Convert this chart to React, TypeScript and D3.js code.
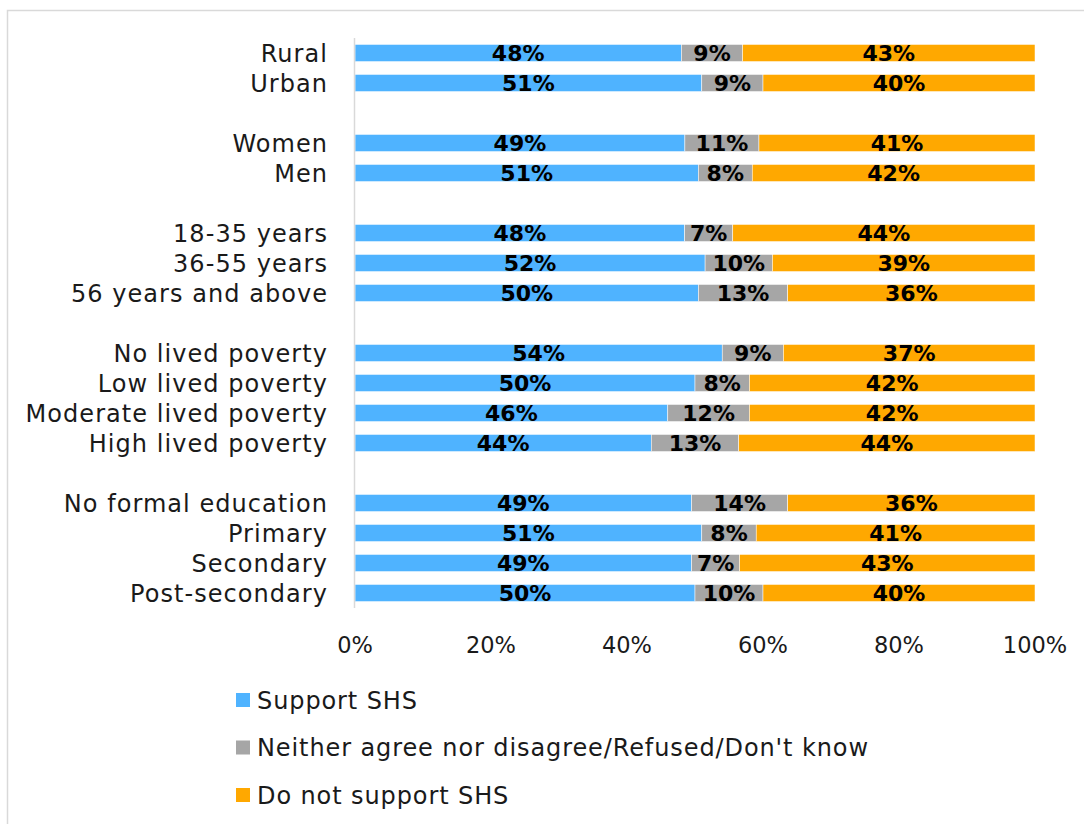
import React from "react";
import * as d3 from "d3";

const groups: string[][] = [
  ["Rural", "Urban"],
  ["Women", "Men"],
  ["18-35 years", "36-55 years", "56 years and above"],
  ["No lived poverty", "Low lived poverty", "Moderate lived poverty", "High lived poverty"],
  ["No formal education", "Primary", "Secondary", "Post-secondary"],
];

const categories: string[] = groups.flat();

const supportSHS: number[] = [48, 51, 49, 51, 48, 52, 50, 54, 50, 46, 44, 49, 51, 49, 50];
const neither: number[] = [9, 9, 11, 8, 7, 10, 13, 9, 8, 12, 13, 14, 8, 7, 10];
const notSupport: number[] = [43, 40, 41, 42, 44, 39, 36, 37, 42, 42, 44, 36, 41, 43, 40];

const seriesNames: string[] = [
  "Support SHS",
  "Neither agree nor disagree/Refused/Don't know",
  "Do not support SHS",
];
const seriesColors: string[] = ["#4FB3FF", "#A6A6A6", "#FFA800"];
const xTicks: number[] = [0, 0.2, 0.4, 0.6, 0.8, 1];

const FONT = "'DejaVu Sans', sans-serif";

export default function App() {
  const W = 1084;
  const H = 824;

  const rowIds: string[] = [];
  groups.forEach((g, gi) => {
    if (gi > 0) rowIds.push(`__gap${gi}`);
    g.forEach((c) => rowIds.push(c));
  });

  const table = categories.map((c, i) => ({
    category: c,
    s0: supportSHS[i],
    s1: neither[i],
    s2: notSupport[i],
  }));

  const stack = d3
    .stack<any>()
    .keys(["s0", "s1", "s2"])
    .offset(d3.stackOffsetExpand);
  const stacked = stack(table);

  const x = d3.scaleLinear().domain([0, 1]).range([355, 1035]);
  const y = d3
    .scaleBand<string>()
    .domain(rowIds)
    .range([38, 608])
    .paddingInner(0.43)
    .paddingOuter(0.215);

  const rawVals = [supportSHS, neither, notSupport];

  return (
    <svg
      width={W}
      height={H}
      style={{ position: "absolute", left: 0, top: 0, background: "#fff" }}
      fontFamily={FONT}
    >
      <rect x={7.5} y={10.5} width={1090} height={830} fill="#fff" stroke="#D9D9D9" strokeWidth={1.5} />

      {stacked.map((layer, si) => (
        <g key={si}>
          {layer.map((d, i) => (
            <rect
              key={i}
              x={x(d[0])}
              y={y(categories[i])}
              width={x(d[1]) - x(d[0])}
              height={y.bandwidth()}
              fill={seriesColors[si]}
              stroke="#fff"
              strokeWidth={0.5}
            />
          ))}
        </g>
      ))}

      {stacked.map((layer, si) => (
        <g key={"l" + si}>
          {layer.map((d, i) => (
            <text
              key={i}
              x={(x(d[0]) + x(d[1])) / 2}
              y={(y(categories[i]) as number) + y.bandwidth() / 2}
              dy="0.36em"
              textAnchor="middle"
              fontSize={22}
              fontWeight="bold"
              fill="#000"
            >
              {rawVals[si][i]}%
            </text>
          ))}
        </g>
      ))}

      <line x1={354.5} x2={354.5} y1={38} y2={608} stroke="#D9D9D9" strokeWidth={1.5} />

      {categories.map((c, i) => (
        <text
          key={c}
          x={328}
          y={(y(c) as number) + y.bandwidth() / 2}
          dy="0.36em"
          textAnchor="end"
          fontSize={24}
          letterSpacing={1.05}
          fill="#1a1a1a"
        >
          {c}
        </text>
      ))}

      {xTicks.map((t) => (
        <text key={t} x={x(t)} y={645} dy="0.36em" textAnchor="middle" fontSize={22.5} fill="#1a1a1a">
          {d3.format(".0%")(t)}
        </text>
      ))}

      {seriesNames.map((n, i) => (
        <g key={n} transform={`translate(236, ${700 + i * 47.5})`}>
          <rect x={0} y={-7} width={14} height={14} fill={seriesColors[i]} />
          <text x={21} y={0} dy="0.36em" fontSize={24} letterSpacing={0.9} fill="#1a1a1a">
            {n}
          </text>
        </g>
      ))}
    </svg>
  );
}
